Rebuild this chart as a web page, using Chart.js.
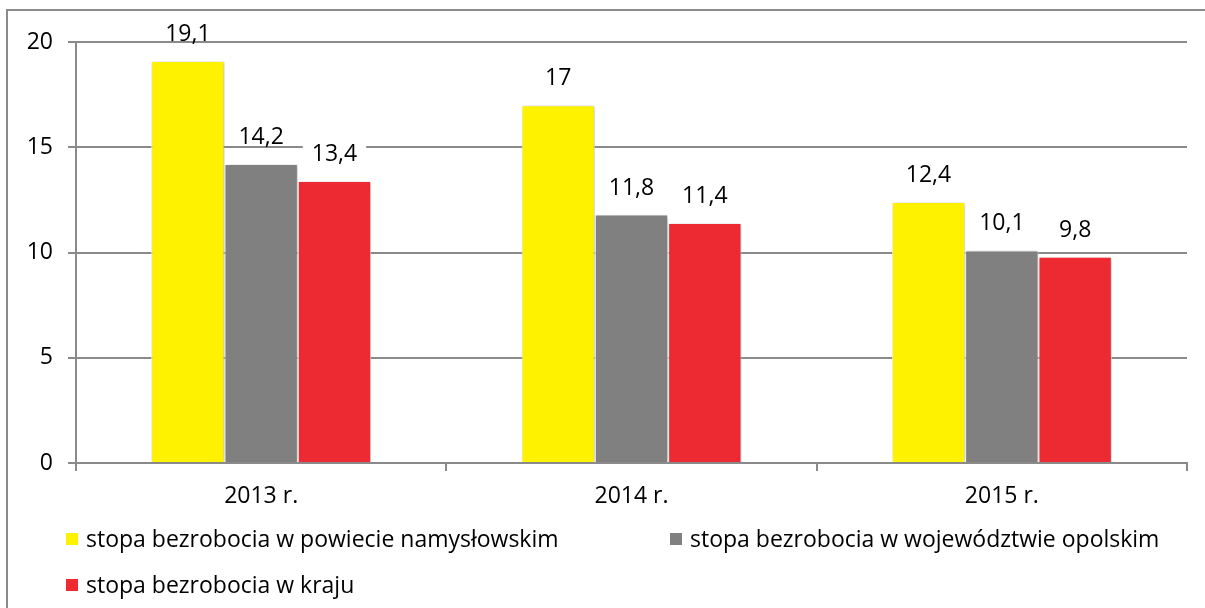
<!DOCTYPE html>
<html>
<head>
<meta charset="utf-8">
<script src="https://cdn.jsdelivr.net/npm/chart.js@4.4.1/dist/chart.umd.min.js"></script>
<style>
  html, body { margin: 0; padding: 0; background: #fff; }
  #wrap { position: relative; width: 1205px; height: 608px; overflow: hidden; }
  canvas { position: absolute; left: 0; top: 0; }
  .leg { position: absolute; font-family: "Open Sans", sans-serif; font-size: 23px; color: #000; white-space: nowrap; line-height: 26px; }
  .sw { position: absolute; width: 12px; height: 12px; }
</style>
</head>
<body>
<div id="wrap">
  <canvas id="c" width="1205" height="608"></canvas>
  <div class="sw" style="left:66px;top:533px;background:#FFF200"></div>
  <div class="leg" style="left:86px;top:525px">stopa bezrobocia w powiecie namysłowskim</div>
  <div class="sw" style="left:670px;top:533px;background:#808080"></div>
  <div class="leg" style="left:690px;top:525px">stopa bezrobocia w województwie opolskim</div>
  <div class="sw" style="left:66px;top:579px;background:#ED2A32"></div>
  <div class="leg" style="left:86px;top:571px">stopa bezrobocia w kraju</div>
</div>
<script>
const categories = ["2013 r.", "2014 r.", "2015 r."];
const seriesNames = [
  "stopa bezrobocia w powiecie namysłowskim",
  "stopa bezrobocia w województwie opolskim",
  "stopa bezrobocia w kraju"
];
const powiat = [19.1, 17, 12.4];
const wojewodztwo = [14.2, 11.8, 10.1];
const kraj = [13.4, 11.4, 9.8];
const yTicks = [0, 5, 10, 15, 20];

const FONT = "'Open Sans', sans-serif";
const fmt = v => String(v).replace('.', ',');

const framePlugin = {
  id: 'frame',
  beforeDraw(chart) {
    const ctx = chart.ctx;
    ctx.save();
    ctx.strokeStyle = '#8a8a8a';
    ctx.lineWidth = 2;
    ctx.beginPath();
    ctx.moveTo(7, 608);
    ctx.lineTo(7, 10);
    ctx.lineTo(1205, 10);
    ctx.stroke();
    ctx.restore();
  }
};

const shadowPlugin = {
  id: 'shadow',
  beforeDatasetsDraw(chart) {
    const ctx = chart.ctx;
    ctx.save();
    ctx.shadowColor = 'rgba(0,0,0,0.28)';
    ctx.shadowBlur = 4;
    ctx.shadowOffsetX = 1;
    ctx.shadowOffsetY = 1;
  },
  afterDatasetsDraw(chart) {
    chart.ctx.restore();
  }
};

const labelPlugin = {
  id: 'vals',
  afterDatasetsDraw(chart) {
    const ctx = chart.ctx;
    ctx.save();
    ctx.font = "23px " + FONT;
    ctx.textAlign = 'center';
    ctx.textBaseline = 'alphabetic';
    chart.data.datasets.forEach((ds, i) => {
      const meta = chart.getDatasetMeta(i);
      meta.data.forEach((el, j) => {
        const t = fmt(ds.data[j]);
        const w = ctx.measureText(t).width;
        const base = el.y - 20;
        ctx.fillStyle = '#fff';
        ctx.fillRect(el.x - w / 2 - 9, base - 18, w + 18, 17);
        ctx.fillStyle = '#000';
        ctx.fillText(t, el.x, base);
      });
    });
    ctx.restore();
  }
};

new Chart(document.getElementById('c'), {
  type: 'bar',
  data: {
    labels: categories,
    datasets: [
      { label: seriesNames[0], data: powiat, backgroundColor: '#FFF200' },
      { label: seriesNames[1], data: wojewodztwo, backgroundColor: '#808080' },
      { label: seriesNames[2], data: kraj, backgroundColor: '#ED2A32' }
    ]
  },
  options: {
    responsive: false,
    animation: false,
    devicePixelRatio: 1,
    layout: { padding: { left: 0, right: 18, top: 42, bottom: 0 } },
    datasets: {
      bar: {
        categoryPercentage: 0.594,
        barPercentage: 1,
        borderColor: '#ffffff',
        borderWidth: 1
      }
    },
    plugins: {
      legend: { display: false },
      tooltip: { enabled: false }
    },
    scales: {
      x: {
        afterFit(s) { s.height = 145; },
        grid: { drawOnChartArea: false, drawTicks: true, tickLength: 8, color: '#8a8a8a', lineWidth: 2, offset: true },
        border: { display: true, color: '#8a8a8a', width: 2 },
        ticks: { color: '#000', font: { family: FONT, size: 23 }, padding: 12 }
      },
      y: {
        min: 0, max: 20,
        afterFit(s) { s.width = 76; },
        afterBuildTicks(s) { s.ticks = yTicks.map(v => ({ value: v })); },
        grid: { drawOnChartArea: true, drawTicks: true, tickLength: 8, color: '#8a8a8a', lineWidth: 2 },
        border: { display: true, color: '#8a8a8a', width: 2 },
        ticks: { color: '#000', font: { family: FONT, size: 23 }, padding: 15 }
      }
    }
  },
  plugins: [framePlugin, shadowPlugin, labelPlugin]
});
</script>
</body>
</html>
